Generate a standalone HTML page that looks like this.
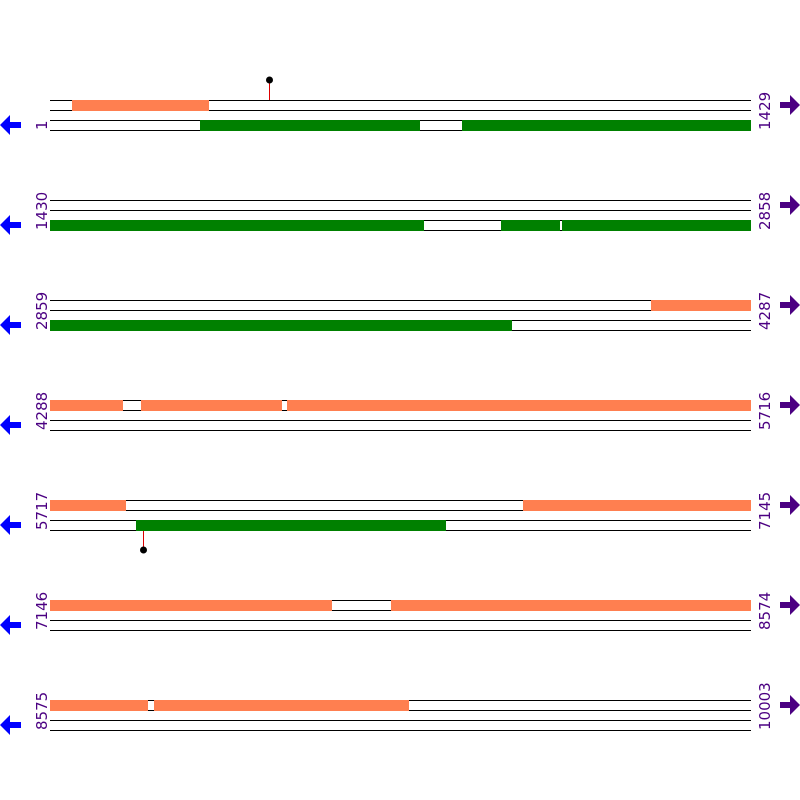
<!DOCTYPE html>
<html><head><style>html,body{margin:0;padding:0;background:#fff}svg{display:block}</style></head>
<body>
<svg width="800" height="800" xmlns="http://www.w3.org/2000/svg">
<g stroke="#000" stroke-width="1" shape-rendering="crispEdges">
<line x1="50" x2="751" y1="100.5" y2="100.5"/><line x1="50" x2="751" y1="110.5" y2="110.5"/><line x1="50" x2="751" y1="120.5" y2="120.5"/><line x1="50" x2="751" y1="130.5" y2="130.5"/>
<line x1="50" x2="751" y1="200.5" y2="200.5"/><line x1="50" x2="751" y1="210.5" y2="210.5"/><line x1="50" x2="751" y1="220.5" y2="220.5"/><line x1="50" x2="751" y1="230.5" y2="230.5"/>
<line x1="50" x2="751" y1="300.5" y2="300.5"/><line x1="50" x2="751" y1="310.5" y2="310.5"/><line x1="50" x2="751" y1="320.5" y2="320.5"/><line x1="50" x2="751" y1="330.5" y2="330.5"/>
<line x1="50" x2="751" y1="400.5" y2="400.5"/><line x1="50" x2="751" y1="410.5" y2="410.5"/><line x1="50" x2="751" y1="420.5" y2="420.5"/><line x1="50" x2="751" y1="430.5" y2="430.5"/>
<line x1="50" x2="751" y1="500.5" y2="500.5"/><line x1="50" x2="751" y1="510.5" y2="510.5"/><line x1="50" x2="751" y1="520.5" y2="520.5"/><line x1="50" x2="751" y1="530.5" y2="530.5"/>
<line x1="50" x2="751" y1="600.5" y2="600.5"/><line x1="50" x2="751" y1="610.5" y2="610.5"/><line x1="50" x2="751" y1="620.5" y2="620.5"/><line x1="50" x2="751" y1="630.5" y2="630.5"/>
<line x1="50" x2="751" y1="700.5" y2="700.5"/><line x1="50" x2="751" y1="710.5" y2="710.5"/><line x1="50" x2="751" y1="720.5" y2="720.5"/><line x1="50" x2="751" y1="730.5" y2="730.5"/>
</g>
<g shape-rendering="crispEdges">
<g fill="#ff7f50">
<rect x="72" y="100" width="137" height="11"/>
<rect x="651" y="300" width="100" height="11"/>
<rect x="50" y="400" width="73" height="11"/><rect x="141" y="400" width="141" height="11"/><rect x="287" y="400" width="464" height="11"/>
<rect x="50" y="500" width="76" height="11"/><rect x="523" y="500" width="228" height="11"/>
<rect x="50" y="600" width="282" height="11"/><rect x="391" y="600" width="360" height="11"/>
<rect x="50" y="700" width="98" height="11"/><rect x="154" y="700" width="255" height="11"/>
</g>
<g fill="#008000">
<rect x="200" y="120" width="220" height="11"/><rect x="462" y="120" width="289" height="11"/>
<rect x="50" y="220" width="374" height="11"/><rect x="501" y="220" width="59" height="11"/><rect x="562" y="220" width="189" height="11"/>
<rect x="50" y="320" width="462" height="11"/>
<rect x="136" y="520" width="310" height="11"/>
</g>
</g>
<line x1="269.5" x2="269.5" y1="80" y2="100" stroke="#d00" stroke-width="1"/>
<circle cx="269.5" cy="80" r="3.5" fill="#000"/>
<line x1="143.5" x2="143.5" y1="531" y2="550" stroke="#d00" stroke-width="1"/>
<circle cx="143.5" cy="550" r="3.5" fill="#000"/>
<g font-family="DejaVu Sans, sans-serif" font-size="15" fill="#4b0082">
<text transform="translate(47,130) rotate(-90)">1</text>
<text transform="translate(47,230) rotate(-90)">1430</text>
<text transform="translate(47,330) rotate(-90)">2859</text>
<text transform="translate(47,430) rotate(-90)">4288</text>
<text transform="translate(47,530) rotate(-90)">5717</text>
<text transform="translate(47,630) rotate(-90)">7146</text>
<text transform="translate(47,730) rotate(-90)">8575</text>
<text transform="translate(770,130) rotate(-90)">1429</text>
<text transform="translate(770,230) rotate(-90)">2858</text>
<text transform="translate(770,330) rotate(-90)">4287</text>
<text transform="translate(770,430) rotate(-90)">5716</text>
<text transform="translate(770,530) rotate(-90)">7145</text>
<text transform="translate(770,630) rotate(-90)">8574</text>
<text transform="translate(770,730) rotate(-90)">10003</text>
</g>
<defs>
<polygon id="la" points="0,0 10,-10 10,-3 21,-3 21,3 10,3 10,10" fill="#0000ff"/>
<polygon id="ra" points="800,0 790,-10 790,-3 780,-3 780,3 790,3 790,10" fill="#4b0082"/>
</defs>
<use href="#la" y="125"/><use href="#la" y="225"/><use href="#la" y="325"/><use href="#la" y="425"/><use href="#la" y="525"/><use href="#la" y="625"/><use href="#la" y="725"/>
<use href="#ra" y="105"/><use href="#ra" y="205"/><use href="#ra" y="305"/><use href="#ra" y="405"/><use href="#ra" y="505"/><use href="#ra" y="605"/><use href="#ra" y="705"/>
</svg>
</body></html>
